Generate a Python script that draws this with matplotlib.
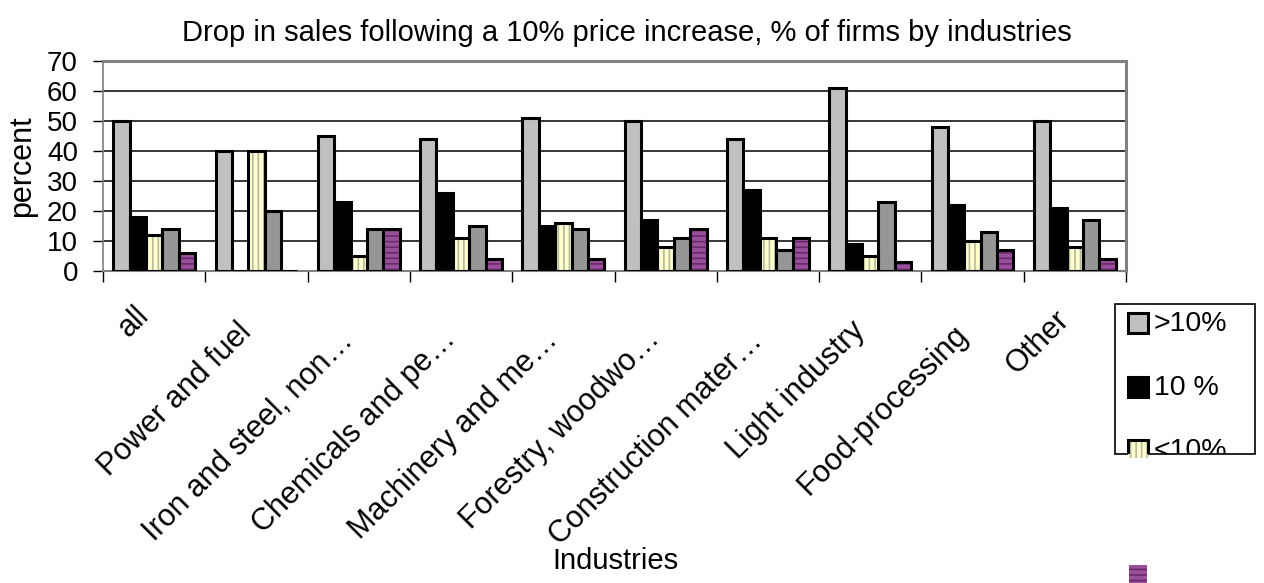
import matplotlib
matplotlib.use("Agg")
import matplotlib.pyplot as plt
from matplotlib.patches import Rectangle
import numpy as np

plt.rcParams['font.family'] = ['Liberation Sans', 'DejaVu Sans']
plt.rcParams['hatch.linewidth'] = 1.2

categories = ["all", "Power and fuel", "Iron and steel, non…", "Chemicals and pe…",
              "Machinery and me…", "Forestry, woodwo…", "Construction mater…",
              "Light industry", "Food-processing", "Other"]
series_names = [">10%", "10 %", "<10%", "not sure", "no drop"]
s_gt10 = [50, 40, 45, 44, 51, 50, 44, 61, 48, 50]
s_eq10 = [18, 0, 23, 26, 15, 17, 27, 9, 22, 21]
s_lt10 = [12, 40, 5, 11, 16, 8, 11, 5, 10, 8]
s_other = [14, 20, 14, 15, 14, 11, 7, 23, 13, 17]
s_none = [6, 0, 14, 4, 4, 14, 11, 3, 7, 4]
y_ticks = [0, 10, 20, 30, 40, 50, 60, 70]

series = [s_gt10, s_eq10, s_lt10, s_other, s_none]
fills = ['#C0C0C0', '#000000', '#FFFFD0', '#969696', '#99509A']
hatches = [None, None, '|||', None, '---']
hatch_cols = [None, None, '#B8B89A', None, '#6A2A6A']

W, H = 1264, 583
fig = plt.figure(figsize=(W / 100, H / 100), dpi=100)


def fx(px):
    return px / W


def fy(py):
    return 1 - py / H


ax = fig.add_axes([fx(103), fy(271), fx(1126) - fx(103), fy(61) - fy(271)])

n = len(categories)
x = np.arange(n)
bw = 0.16
for i, (vals, fc, hc, hcol) in enumerate(zip(series, fills, hatches, hatch_cols)):
    pos = x - 2 * bw + i * bw
    if hc:
        ax.bar(pos, vals, width=bw, color=fc, edgecolor=hcol, hatch=hc,
               linewidth=0, zorder=3)
        ax.bar(pos, vals, width=bw, facecolor='none', edgecolor='black',
               linewidth=2.2, zorder=4)
    else:
        ax.bar(pos, vals, width=bw, color=fc, edgecolor='black',
               linewidth=2.2, zorder=3)

ax.set_xlim(-0.5, n - 0.5)
ax.set_ylim(0, 70)
ax.set_yticks(y_ticks)
ax.set_yticklabels([str(t) for t in y_ticks], fontsize=20)
ax.yaxis.grid(True, color='black', linewidth=1.1, zorder=0)
ax.set_axisbelow(True)
ax.tick_params(axis='y', length=7, width=1, pad=11)

# category boundaries carry the ticks
ax.set_xticks(np.arange(-0.5, n, 1.0))
ax.set_xticklabels([])
ax.tick_params(axis='x', length=8, width=1, direction='out')

# slanted category labels: longer labels sit a little lower under the axis
renderer = fig.canvas.get_renderer()
px_per_unit = (271 - 61) / 70.0
for i, lab in enumerate(categories):
    t = ax.text(i - 0.2, 0, lab, rotation=0, ha='right', va='top', fontsize=22,
                rotation_mode='anchor', transform=ax.transData, clip_on=False)
    width_px = t.get_window_extent(renderer).width
    drop_px = 26 + 0.1 * width_px
    t.set_position((i - 0.2, -drop_px / px_per_unit))
    t.set_rotation(45)

for side in ['top', 'right', 'left']:
    ax.spines[side].set_color('#808080')
    ax.spines[side].set_linewidth(2.2)
ax.spines['left'].set_linewidth(1.2)
ax.spines['bottom'].set_color('#808080')
ax.spines['bottom'].set_linewidth(1.5)

fig.text(fx(22), fy(166), 'percent', rotation=90, ha='center', va='center', fontsize=22)
fig.text(fx(627), fy(33), 'Drop in sales following a 10% price increase, % of firms by industries',
         ha='center', va='center', fontsize=21)
fig.text(fx(615), fy(561), 'Industries', ha='center', va='center', fontsize=21)

# legend box (entries below its bottom edge are cut off)
box = Rectangle((fx(1115), fy(454)), fx(1255) - fx(1115), fy(304) - fy(454),
                transform=fig.transFigure, facecolor='white', edgecolor='black',
                linewidth=1.2, zorder=5)
fig.add_artist(box)
entry_tops = [313, 377, 440]
for k in range(3):
    top = entry_tops[k]
    hgt = 18 if k == 2 else 20
    fill_rect = Rectangle((fx(1128), fy(top + hgt)), fx(1148) - fx(1128), fy(top) - fy(top + hgt),
                          transform=fig.transFigure, facecolor=fills[k],
                          edgecolor=hatch_cols[k] if hatches[k] else 'none',
                          hatch=hatches[k], linewidth=0, zorder=6)
    fig.add_artist(fill_rect)
    edge = Rectangle((fx(1128), fy(top + 20)), fx(1148) - fx(1128), fy(top) - fy(top + 20),
                     transform=fig.transFigure, facecolor='none', edgecolor='black',
                     linewidth=2.2, zorder=7)
    fig.add_artist(edge)
    edge.set_clip_path(box)
    t = fig.text(fx(1154), fy(top + 11), series_names[k], ha='left', va='center',
                 fontsize=20.5, zorder=8)
    t.set_clip_path(box)

# last entry marker sits below the box
fig.add_artist(Rectangle((fx(1129), fy(583)), fx(1147) - fx(1129), fy(565) - fy(583),
                         transform=fig.transFigure, facecolor=fills[4],
                         edgecolor=hatch_cols[4], hatch=hatches[4], linewidth=0, zorder=6))

fig.savefig('out.png', dpi=100)
